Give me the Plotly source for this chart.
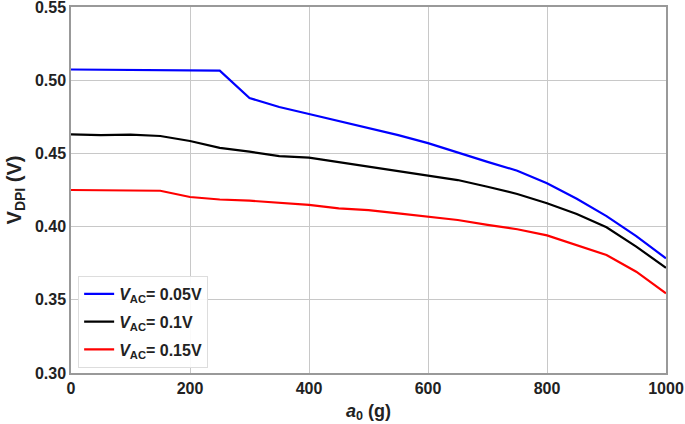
import plotly.graph_objects as go

a0 = [0, 50, 100, 150, 200, 250, 300, 350, 400, 450, 500, 550, 600, 650, 700, 750, 800, 850, 900, 950, 1000]
v_005 = [0.5073, 0.5072, 0.5071, 0.5069, 0.5067, 0.5065, 0.4878, 0.4817, 0.4769, 0.4720, 0.4672, 0.4625,
         0.4570, 0.4505, 0.4442, 0.4382, 0.4296, 0.4190, 0.4072, 0.3935, 0.3783]
v_01 = [0.4630, 0.4625, 0.4628, 0.4619, 0.4585, 0.4538, 0.4512, 0.4482, 0.4471, 0.4440, 0.4409, 0.4382,
        0.4352, 0.4318, 0.4272, 0.4223, 0.4159, 0.4086, 0.3995, 0.3863, 0.3719]
v_015 = [0.4250, 0.4249, 0.4248, 0.4245, 0.4202, 0.4185, 0.4177, 0.4163, 0.4148, 0.4125, 0.4113, 0.4090,
         0.4068, 0.4045, 0.4012, 0.3982, 0.3940, 0.3874, 0.3806, 0.3692, 0.3544]
series_names = ["<b><i>V</i><sub>AC</sub>= 0.05V</b>", "<b><i>V</i><sub>AC</sub>= 0.1V</b>",
                "<b><i>V</i><sub>AC</sub>= 0.15V</b>"]
colors = ["#0000ff", "#000000", "#ff0000"]

fig = go.Figure()
for i, (ys, name, c) in enumerate(zip([v_005, v_01, v_015], series_names, colors)):
    fig.add_trace(go.Scatter(x=a0, y=ys, mode="lines", name=name, legendgroup=f"g{i}",
                             line=dict(color=c, width=2.2)))

font_family = "Liberation Sans, Arial, sans-serif"
fig.update_layout(
    width=685, height=424,
    margin=dict(l=71, r=19, t=7, b=51, autoexpand=False),
    plot_bgcolor="white", paper_bgcolor="white",
    font=dict(family=font_family, color="#222222"),
    showlegend=True,
    legend=dict(x=0.012, y=0.014, xanchor="left", yanchor="bottom",
                bgcolor="rgba(255,255,255,0.9)", bordercolor="#dddddd", borderwidth=1,
                font=dict(size=16, color="#222222"), tracegroupgap=4, traceorder="grouped"),
    xaxis=dict(range=[0, 1000], tickvals=[0, 200, 400, 600, 800, 1000],
               ticktext=["<b>0</b>", "<b>200</b>", "<b>400</b>", "<b>600</b>", "<b>800</b>", "<b>1000</b>"],
               showgrid=True, gridcolor="#c8c8c8", gridwidth=1,
               showline=True, linecolor="#999999", linewidth=1.5, mirror=True,
               ticks="", tickfont=dict(size=16, color="#222222"), automargin=False,
               ticklabeloverflow="allow",
               title=dict(text="<b><i>a</i><sub>0</sub> (g)</b>", font=dict(size=18, color="#222222"), standoff=8),
               zeroline=False),
    yaxis=dict(range=[0.30, 0.55], tickvals=[0.30, 0.35, 0.40, 0.45, 0.50, 0.55],
               ticktext=["<b>0.30</b>", "<b>0.35</b>", "<b>0.40</b>", "<b>0.45</b>", "<b>0.50</b>", "<b>0.55</b>"],
               showgrid=True, gridcolor="#c8c8c8", gridwidth=1,
               showline=True, linecolor="#999999", linewidth=1.5, mirror=True,
               ticks="", tickfont=dict(size=16, color="#222222"), automargin=False,
               ticklabeloverflow="allow",
               title=dict(text="<b>V<sub>DPI</sub> (V)</b>", font=dict(size=20, color="#222222"), standoff=8),
               zeroline=False),
)
fig.write_html("out.html", config={"displayModeBar": False},
               post_script="document.body.style.margin='0';document.body.style.overflow='hidden';")
